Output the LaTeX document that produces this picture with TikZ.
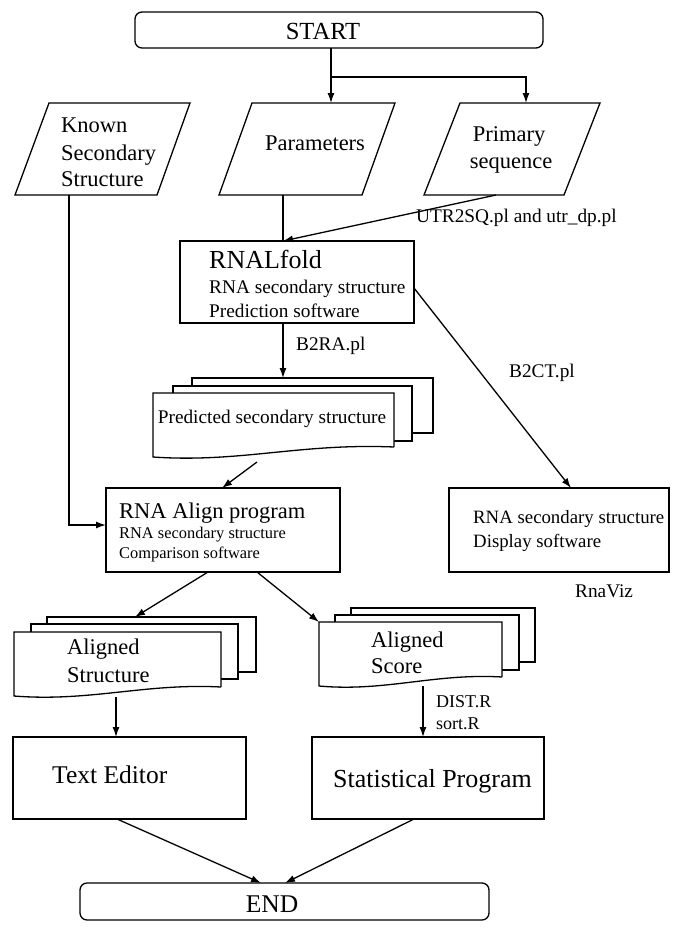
\documentclass[tikz,border=0pt]{standalone}
\usepackage{fontspec}
\setmainfont{Liberation Serif}
\usetikzlibrary{arrows.meta,calc}
\begin{document}
\begin{tikzpicture}[x=1pt,y=-1pt,
  ln/.style={line width=1.3pt},
  arr/.style={line width=1.3pt,-{Latex[length=10pt,width=7pt]}},
  box/.style={draw,line width=1.3pt,inner sep=0pt,outer sep=0pt},
  term/.style={box,rounded corners=7pt},
  doc/.style={draw,line width=1.3pt,fill=white,line join=miter},
  lt/.style={inner sep=0pt,anchor=base west},
  ct/.style={inner sep=0pt,anchor=base},
  fA/.style={font=\fontsize{22.5}{27}\selectfont},
  fB/.style={font=\fontsize{19.3}{23}\selectfont},
  fC/.style={font=\fontsize{16.4}{20}\selectfont},
  fD/.style={font=\fontsize{25.5}{30}\selectfont}
]
\useasboundingbox (0,0) rectangle (685,932);

% terminals
\node[term,minimum width=408pt,minimum height=36pt] (start) at (339,30) {};
\node[ct,font=\fontsize{24.6}{28}\selectfont] (startt) at (323,39) {START};
\node[term,minimum width=409pt,minimum height=37pt] (end) at (284.5,901.5) {};
\node[ct,fD] (endt) at (272,912) {END};

% parallelograms
\draw[ln,line join=miter] (49,103) -- (190,103) -- (157,195) -- (15,195) -- cycle;
\draw[ln,line join=miter] (252,103) -- (395,103) -- (362,195) -- (219,195) -- cycle;
\draw[ln,line join=miter] (460,103) -- (600,103) -- (564,195) -- (424,195) -- cycle;
\node[lt,fA] (kn1) at (61,132) {Known};
\node[lt,fA] (kn2) at (61,160) {Secondary};
\node[lt,fA] (kn3) at (61,186) {Structure};
\node[ct,fA] (par) at (315,150) {Parameters};
\node[ct,fA] (pr1) at (509,141) {Primary};
\node[ct,fA] (pr2) at (511,168) {sequence};

% process boxes
\node[box,minimum width=234pt,minimum height=82pt] (rnalfold) at (297,282) {};
\node[lt,font=\fontsize{26}{30}\selectfont] (rf1) at (209,268) {RNALfold};
\node[lt,fB] (rf2) at (209,293) {RNA secondary structure};
\node[lt,fB] (rf3) at (209,317) {Prediction software};

\node[box,minimum width=234pt,minimum height=84pt] (align) at (223,530) {};
\node[lt,font=\fontsize{22.5}{27}\selectfont] (al1) at (119,518) {RNA Align program};
\node[lt,fC] (al2) at (119,538) {RNA secondary structure};
\node[lt,fC] (al3) at (119,558) {Comparison software};

\node[box,minimum width=220pt,minimum height=84pt] (viz) at (559,530) {};
\node[lt,font=\fontsize{18.8}{23}\selectfont] (vz1) at (473,523) {RNA secondary structure};
\node[lt,font=\fontsize{18.8}{23}\selectfont] (vz2) at (473,547) {Display software};
\node[lt,fB] (rnaviz) at (575,597) {RnaViz};

\node[box,minimum width=233pt,minimum height=82pt] (texted) at (129.5,778) {};
\node[lt,fD] (te) at (52,783) {Text Editor};
\node[box,minimum width=232pt,minimum height=82pt] (stat) at (428,778) {};
\node[lt,font=\fontsize{26}{30}\selectfont] (st) at (333,787) {Statistical Program};

% documents: predicted
\draw[doc] (192,378) rectangle (433,433);
\draw[doc] (173,386) rectangle (412,441);
\draw[doc] (394,447) -- (394,393) -- (153,393) -- (153,457)
  .. controls (240,463) and (300,443) .. (394,447);
\node[ct,fB] (pred) at (272,423) {Predicted secondary structure};

% documents: aligned structure
\draw[doc] (47,617) rectangle (256,672);
\draw[doc] (31,624) rectangle (238,679);
\draw[doc] (221,687) -- (221,632) -- (14,632) -- (14,696)
  .. controls (90,702) and (145,683) .. (221,687);
\node[lt,fA] (as1) at (67,654) {Aligned};
\node[lt,fA] (as2) at (67,682) {Structure};

% documents: aligned score
\draw[doc] (351,608) rectangle (535,662);
\draw[doc] (335,615) rectangle (519,670);
\draw[doc] (502,677) -- (502,622) -- (319,622) -- (319,686)
  .. controls (385,692) and (435,673) .. (502,677);
\node[lt,fA] (sc1) at (371,647) {Aligned};
\node[lt,fA] (sc2) at (371,673) {Score};

% labels
\node[lt,fB] (utr) at (416,222) {UTR2SQ.pl and utr\_dp.pl};
\node[lt,fB] (b2ra) at (296,350) {B2RA.pl};
\node[lt,fB] (b2ct) at (509,377) {B2CT.pl};
\node[lt,font=\fontsize{18}{22}\selectfont] (dist) at (436,707) {DIST.R};
\node[lt,font=\fontsize{18}{22}\selectfont] (sortr) at (436,729) {sort.R};

% coordinates
\coordinate (j) at (331,77);
\coordinate (parT) at (331,103);
\coordinate (priT) at (526,103);
\coordinate (knB) at (69,195);
\coordinate (parB) at (283,195);
\coordinate (priB) at (496,195);
\coordinate (predT) at (283,378);
\coordinate (rfE) at (414,288);
\coordinate (vizT) at (571,488);
\coordinate (predB) at (257,462);
\coordinate (alT) at (222,488);
\coordinate (alB1) at (208,572);
\coordinate (alB2) at (257,572);
\coordinate (asT) at (135,617);
\coordinate (scT) at (319,622);
\coordinate (asB) at (116,697);
\coordinate (scB) at (423,686);
\coordinate (teB) at (117,819);
\coordinate (stB) at (414,819);
\coordinate (endT1) at (261,883);
\coordinate (endT2) at (285,883);

% connectors
\draw[ln] (start.south -| j) -- (j);
\draw[arr] (j) -- (parT);
\draw[arr] (j) -| (priT);
\draw[arr] (knB) |- ([yshift=5pt]align.west);
\draw[ln] (parB) -- (parB |- rnalfold.north);
\draw[arr] (priB) -- (parB |- rnalfold.north);
\draw[arr] (rnalfold.south -| parB) -- (predT);
\draw[arr] (rfE) -- (vizT);
\draw[arr] (predB) -- (alT);
\draw[arr] (alB1) -- (asT);
\draw[arr] (alB2) -- (scT);
\draw[arr] (asB) -- (asB |- texted.north);
\draw[arr] (scB) -- (scB |- stat.north);
\draw[arr] (teB) -- (endT1);
\draw[arr] (stB) -- (endT2);
\end{tikzpicture}
\end{document}
